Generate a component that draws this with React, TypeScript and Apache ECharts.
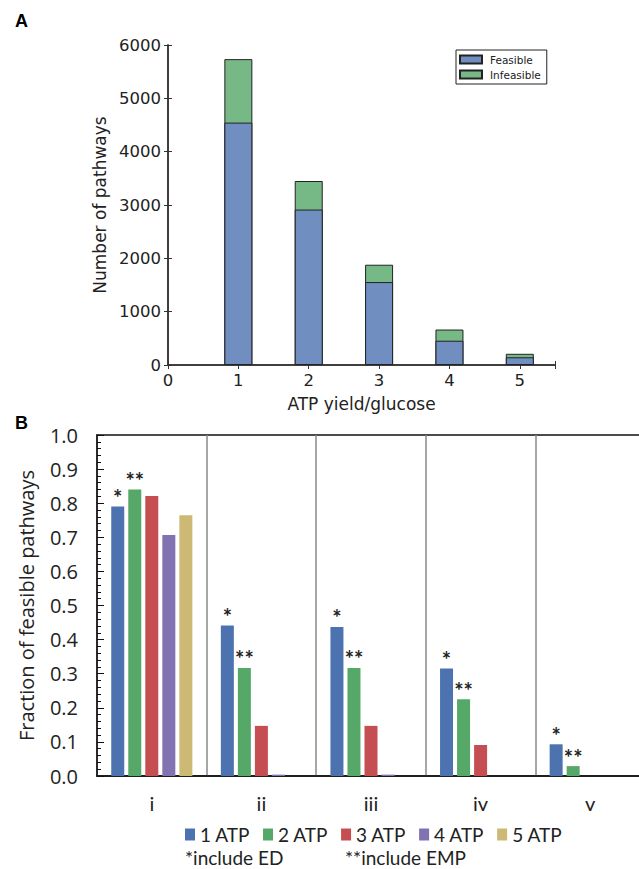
import React, { useEffect, useRef } from "react";
import * as echarts from "echarts";

// Panel A data
const atpYield = [1, 2, 3, 4, 5];
const feasible = [4545, 2915, 1555, 455, 145];
const infeasible = [1190, 535, 325, 210, 65];
const aSeriesNames = ["Feasible", "Infeasible"];

// Panel B data
const groups = ["i", "ii", "iii", "iv", "v"];
const bSeriesNames = ["1 ATP", "2 ATP", "3 ATP", "4 ATP", "5 ATP"];
const atp1 = [0.79, 0.441, 0.437, 0.315, 0.093];
const atp2 = [0.84, 0.317, 0.317, 0.225, 0.029];
const atp3 = [0.821, 0.147, 0.147, 0.091, 0];
const atp4 = [0.707, 0.004, 0.004, 0, 0];
const atp5 = [0.765, 0, 0, 0, 0];
const bLabels = ["*", "**", "", "", ""];
const notes = ["*include ED", "**include EMP"];

const aColors = ["#708EC0", "#77B986"];
const bColors = ["#4C72B0", "#55A868", "#C44E52", "#8172B2", "#CCB974"];

export default function App() {
  const ref = useRef<HTMLDivElement>(null);
  useEffect(() => {
    if (!ref.current) return;
    const chart = echarts.init(ref.current, null, { renderer: "svg" });
    const dv = "DejaVu Sans";
    const axisA = { lineStyle: { color: "#333", width: 1.5 } };
    const bData = [atp1, atp2, atp3, atp4, atp5];

    const option: any = {
      animation: false,
      backgroundColor: "#fff",
      grid: [
        { left: 168, top: 45, width: 387, height: 320, outerBoundsMode: "none", containLabel: false },
        {
          left: 97,
          top: 435,
          width: 548,
          height: 341,
          outerBoundsMode: "none",
          containLabel: false,
          show: true,
          borderColor: "#111",
          borderWidth: 1.5,
        },
      ],
      legend: [
        {
          data: aSeriesNames,
          orient: "vertical",
          left: 456,
          top: 50,
          itemWidth: 22,
          itemHeight: 8,
          itemGap: 4,
          icon: "rect",
          padding: [4, 6, 4, 3],
          borderColor: "#222",
          borderWidth: 1,
          borderRadius: 0,
          textStyle: { fontFamily: dv, fontSize: 10.5, color: "#222", padding: [0, 0, 0, 3] },
        },
        {
          data: bSeriesNames,
          orient: "horizontal",
          left: 185,
          top: 825,
          itemWidth: 10,
          itemHeight: 12,
          itemGap: 13,
          icon: "rect",
          padding: 0,
          textStyle: { fontFamily: "Lato", fontSize: 19, color: "#222" },
        },
      ],
      xAxis: [
        {
          type: "value",
          gridIndex: 0,
          min: 0,
          max: 5.5,
          interval: 1,
          axisLine: { show: true, ...axisA },
          axisTick: { show: true, inside: true, length: 4, lineStyle: { color: "#333" } },
          axisLabel: {
            fontFamily: dv,
            fontSize: 16.5,
            color: "#222",
            margin: 7,
            formatter: (v: number) => (Number.isInteger(v) ? String(v) : ""),
          },
          splitLine: { show: false },
          name: "ATP yield/glucose",
          nameLocation: "middle",
          nameGap: 30,
          nameTextStyle: { fontFamily: dv, fontSize: 17, color: "#222" },
        },
        {
          type: "value",
          gridIndex: 0,
          position: "top",
          min: 0,
          max: 5.5,
          interval: 1,
          axisLine: { show: true, ...axisA },
          axisTick: { show: true, inside: true, length: 4, lineStyle: { color: "#333" } },
          axisLabel: { show: false },
          splitLine: { show: false },
        },
        {
          type: "category",
          gridIndex: 1,
          data: groups,
          axisLine: { show: true, lineStyle: { color: "#111", width: 1.5 } },
          axisTick: { show: false },
          axisLabel: { fontFamily: "Lato", fontSize: 20, color: "#222", margin: 17 },
          splitLine: { show: true, interval: 0, lineStyle: { color: "#888", width: 1.5 } },
        },
      ],
      yAxis: [
        {
          type: "value",
          gridIndex: 0,
          min: 0,
          max: 6000,
          interval: 1000,
          axisLine: { show: true, ...axisA },
          axisTick: { show: true, inside: true, length: 4, lineStyle: { color: "#333" } },
          axisLabel: {
            fontFamily: dv,
            fontSize: 16.5,
            color: "#222",
            margin: 7,
            formatter: (v: number) => String(v),
          },
          splitLine: { show: false },
          name: "Number of pathways",
          nameLocation: "middle",
          nameGap: 57,
          nameTextStyle: { fontFamily: dv, fontSize: 17, color: "#222" },
        },
        {
          type: "value",
          gridIndex: 0,
          position: "right",
          min: 0,
          max: 6000,
          interval: 1000,
          axisLine: { show: true, ...axisA },
          axisTick: { show: true, inside: true, length: 4, lineStyle: { color: "#333" } },
          axisLabel: { show: false },
          splitLine: { show: false },
        },
        {
          type: "value",
          gridIndex: 1,
          min: 0,
          max: 1,
          interval: 0.1,
          axisLine: { show: true, lineStyle: { color: "#111", width: 1.5 } },
          axisTick: { show: true, inside: true, length: 7, lineStyle: { color: "#111" } },
          minorTick: { show: true, splitNumber: 5, length: 4, lineStyle: { color: "#111" } },
          axisLabel: {
            fontFamily: "Open Sans",
            fontSize: 20,
            color: "#222",
            margin: 19,
            formatter: (v: number) => v.toFixed(1),
          },
          splitLine: { show: false },
          name: "Fraction of feasible pathways",
          nameLocation: "middle",
          nameGap: 61,
          nameTextStyle: { fontFamily: "Open Sans", fontSize: 20, color: "#222" },
        },
      ],
      series: [
        {
          // drawn first: full column height (feasible + infeasible); visible part is the infeasible top
          name: aSeriesNames[1],
          type: "bar",
          xAxisIndex: 0,
          yAxisIndex: 0,
          barWidth: 28,
          barGap: "-100%",
          data: atpYield.map((x, i) => [x, feasible[i] + infeasible[i]]),
          itemStyle: { color: aColors[1], borderColor: "#222", borderWidth: 1 },
        },
        {
          name: aSeriesNames[0],
          type: "bar",
          xAxisIndex: 0,
          yAxisIndex: 0,
          barWidth: 28,
          barGap: "-100%",
          data: atpYield.map((x, i) => [x, feasible[i]]),
          itemStyle: { color: aColors[0], borderColor: "#222", borderWidth: 1 },
        },
        ...bSeriesNames.map((name, k) => ({
          name,
          type: "bar",
          xAxisIndex: 2,
          yAxisIndex: 2,
          barWidth: 13,
          barGap: "31%",
          data: bData[k],
          itemStyle: { color: bColors[k] },
          label: {
            show: bLabels[k] !== "",
            position: "top",
            distance: -2,
            formatter: bLabels[k],
            fontFamily: "Lato",
            fontWeight: "bold",
            fontSize: 22,
            color: "#222",
            textBorderWidth: 0,
          },
        })),
      ],
      graphic: [
        {
          type: "text",
          left: 15,
          top: 12,
          style: { text: "A", font: "bold 18px 'Liberation Sans'", fill: "#000" },
        },
        {
          type: "text",
          left: 15,
          top: 414,
          style: { text: "B", font: "bold 18px 'Liberation Sans'", fill: "#000" },
        },
        {
          type: "text",
          left: 185,
          top: 848,
          style: { text: notes[0], font: "19px Lato", fill: "#222" },
        },
        {
          type: "text",
          left: 345,
          top: 848,
          style: { text: notes[1], font: "19px Lato", fill: "#222" },
        },
      ],
    };
    chart.setOption(option);
    return () => chart.dispose();
  }, []);
  return (
    <div
      ref={ref}
      style={{ position: "absolute", left: 0, top: 0, width: 639, height: 869, background: "#fff" }}
    />
  );
}
